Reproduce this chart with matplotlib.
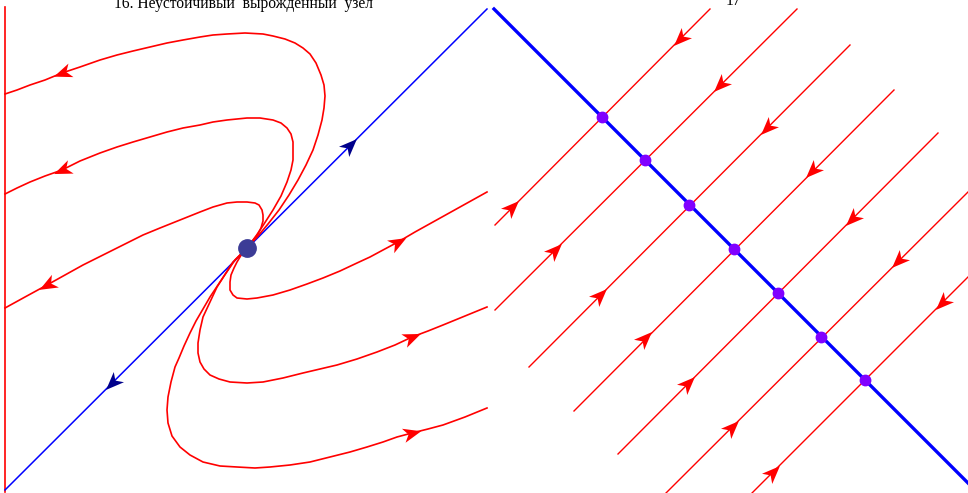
import numpy as np
import matplotlib
matplotlib.use("Agg")
import matplotlib.pyplot as plt
from matplotlib.path import Path
from matplotlib.markers import MarkerStyle
from matplotlib.transforms import Affine2D

# ---- left panel: unstable degenerate node (picture units, y down) ----
node = (247, 248)
wall_x = [5, 5]
wall_y = [7, 492]
eig_x = [5, 487]
eig_y = [490, 9]
eig_arrows_x = [350, 112]
eig_arrows_y = [145, 383]
eig_arrows_dir = [1, -1]  # +1 up-right, -1 down-left

# trajectories, listed from the node outward (direction of motion)
u1_x = [247, 258, 268, 279, 289, 298, 306, 313, 318, 322, 324, 325, 324, 321, 316, 310, 303, 295, 285, 273,
        263, 245, 227, 213, 200, 183, 167, 150, 133, 117, 100, 80, 62, 45, 30, 17, 5]
u1_y = [248, 236, 224, 210, 195, 180, 165, 150, 135, 120, 108, 96, 85, 75, 63, 54, 48, 43, 39, 36,
        34, 33, 34, 35, 37, 40, 43, 47, 51, 55, 60, 67, 73, 80, 85, 90, 94]
u2_x = [247, 256, 264, 273, 281, 287, 291, 293, 293, 293, 291, 287, 281, 273, 260, 247, 237, 227, 213, 200,
        183, 167, 150, 133, 117, 100, 80, 62, 45, 30, 17, 5]
u2_y = [248, 236, 224, 210, 196, 182, 170, 160, 150, 142, 134, 128, 123, 120, 118, 118, 119, 120, 122, 125,
        128, 132, 137, 142, 147, 153, 161, 170, 176, 182, 188, 194]
u3_x = [247, 250, 254, 258, 261, 263, 263, 262, 259, 255, 247, 237, 227, 213, 200, 180, 160, 143, 127, 105,
        83, 65, 47, 25, 5]
u3_y = [248, 244, 239, 234, 228, 221, 215, 210, 205, 203, 202, 202, 203, 207, 212, 220, 228, 235, 243, 254,
        265, 275, 285, 297, 308]
l1_x = [247, 240, 233, 226, 218, 210, 203, 196, 190, 184, 179, 175, 171, 168, 167, 168, 172, 180, 190, 203,
        220, 237, 255, 270, 290, 310, 330, 350, 367, 383, 397, 412, 428, 443, 465, 487]
l1_y = [248, 255, 262, 273, 285, 297, 309, 321, 333, 346, 358, 367, 382, 397, 410, 423, 436, 447, 455, 462,
        466, 467, 468, 467, 465, 462, 457, 452, 447, 442, 437, 433, 429, 425, 417, 408]
l2_x = [247, 241, 235, 226, 217, 210, 203, 200, 198, 198, 200, 204, 210, 219, 230, 247, 263, 283, 303, 320,
        337, 357, 377, 395, 412, 428, 443, 465, 487]
l2_y = [248, 254, 260, 273, 287, 302, 317, 330, 343, 353, 362, 369, 375, 379, 382, 383, 382, 378, 373, 369,
        365, 359, 352, 345, 337, 331, 325, 316, 307]
l3_x = [247, 243, 240, 237, 234, 231, 230, 230, 233, 237, 247, 257, 273, 290, 307, 323, 340, 357, 370, 383,
        398, 415, 433, 460, 487]
l3_y = [248, 252, 257, 262, 268, 275, 282, 290, 295, 298, 299, 298, 295, 290, 284, 278, 271, 263, 257, 250,
        242, 232, 222, 207, 192]
curves_x = [u1_x, u2_x, u3_x, l1_x, l2_x, l3_x]
curves_y = [u1_y, u2_y, u3_y, l1_y, l2_y, l3_y]
curve_arrows_x = [62, 62, 47, 412, 412, 398]
curve_arrows_y = [73, 170, 285, 433, 337, 242]

# ---- right panel: line of equilibria ----
rest_x = [494, 968]
rest_y = [9, 483]
dots_x = [602, 645, 689, 734, 778, 821, 865]
dots_y = [117, 160, 205, 249, 293, 337, 380]
low_x = [495, 495, 529, 574, 618, 666, 752]
low_y = [225, 310, 367, 411, 454, 493, 493]
up_x = [710, 797, 850, 894, 938, 968, 968]
up_y = [9, 9, 45, 90, 133, 192, 277]
in_arr_x = [680, 720, 767, 812, 852, 898, 942]    # above the line, moving down-left
in_arr_y = [39, 85, 128, 171, 219, 261, 303]
out_arr_x = [512, 555, 600, 645, 688, 732, 773]   # below the line, moving up-right
out_arr_y = [207, 250, 295, 338, 383, 427, 472]

RED = "#ff0000"
BLUE = "#0000ff"
NAVY = "#00008b"

head = Path([(1.0, 0.0), (-1.0, 0.8), (-0.45, 0.0), (-1.0, -0.8), (1.0, 0.0)],
            [Path.MOVETO, Path.LINETO, Path.LINETO, Path.LINETO, Path.CLOSEPOLY])


def arrow(ax, x, y, dx, dy, color, size=13):
    # y axis points down, so flip dy for the screen angle
    ang = np.degrees(np.arctan2(-dy, dx))
    m = MarkerStyle(head, transform=Affine2D().rotate_deg(ang))
    ax.plot([x], [y], marker=m, markersize=size, color=color,
            markeredgewidth=0, linestyle="none", zorder=5)


fig = plt.figure(figsize=(9.68, 4.93), dpi=100)
ax = fig.add_axes([0, 0, 1, 1])
ax.set_xlim(0, 968)
ax.set_ylim(493, 0)
ax.axis("off")

# left panel
ax.plot(wall_x, wall_y, color=RED, lw=1.2)
ax.plot(eig_x, eig_y, color=BLUE, lw=1.1)
for x, y, s in zip(eig_arrows_x, eig_arrows_y, eig_arrows_dir):
    arrow(ax, x, y, s, -s, NAVY)
for cx, cy, axx, ayy in zip(curves_x, curves_y, curve_arrows_x, curve_arrows_y):
    ax.plot(cx, cy, color=RED, lw=1.2)
    px, py = np.array(cx), np.array(cy)
    k = int(np.argmin((px - axx) ** 2 + (py - ayy) ** 2))
    arrow(ax, axx, ayy, px[k + 1] - px[k - 1], py[k + 1] - py[k - 1], RED)
ax.plot([node[0]], [node[1]], "o", color="#3c3c96", markersize=12.5, zorder=6)

ax.text(243, 8, "16. Неустойчивый  вырожденный  узел", family="Liberation Serif",
        fontsize=11.2, ha="center", va="baseline")
ax.text(733, 5, "17", family="Liberation Serif", fontsize=11.2, ha="center", va="baseline")

# right panel
for i in range(len(dots_x)):
    ax.plot([low_x[i], up_x[i]], [low_y[i], up_y[i]], color=RED, lw=1.0)
    arrow(ax, in_arr_x[i], in_arr_y[i], -1, 1, RED)
    arrow(ax, out_arr_x[i], out_arr_y[i], 1, -1, RED)
ax.plot(rest_x, rest_y, color=BLUE, lw=2.4)
ax.plot(dots_x, dots_y, "o", color="#8000ff", markersize=7.5, linestyle="none", zorder=6)

fig.savefig("out.png", dpi=100)
plt.close(fig)
